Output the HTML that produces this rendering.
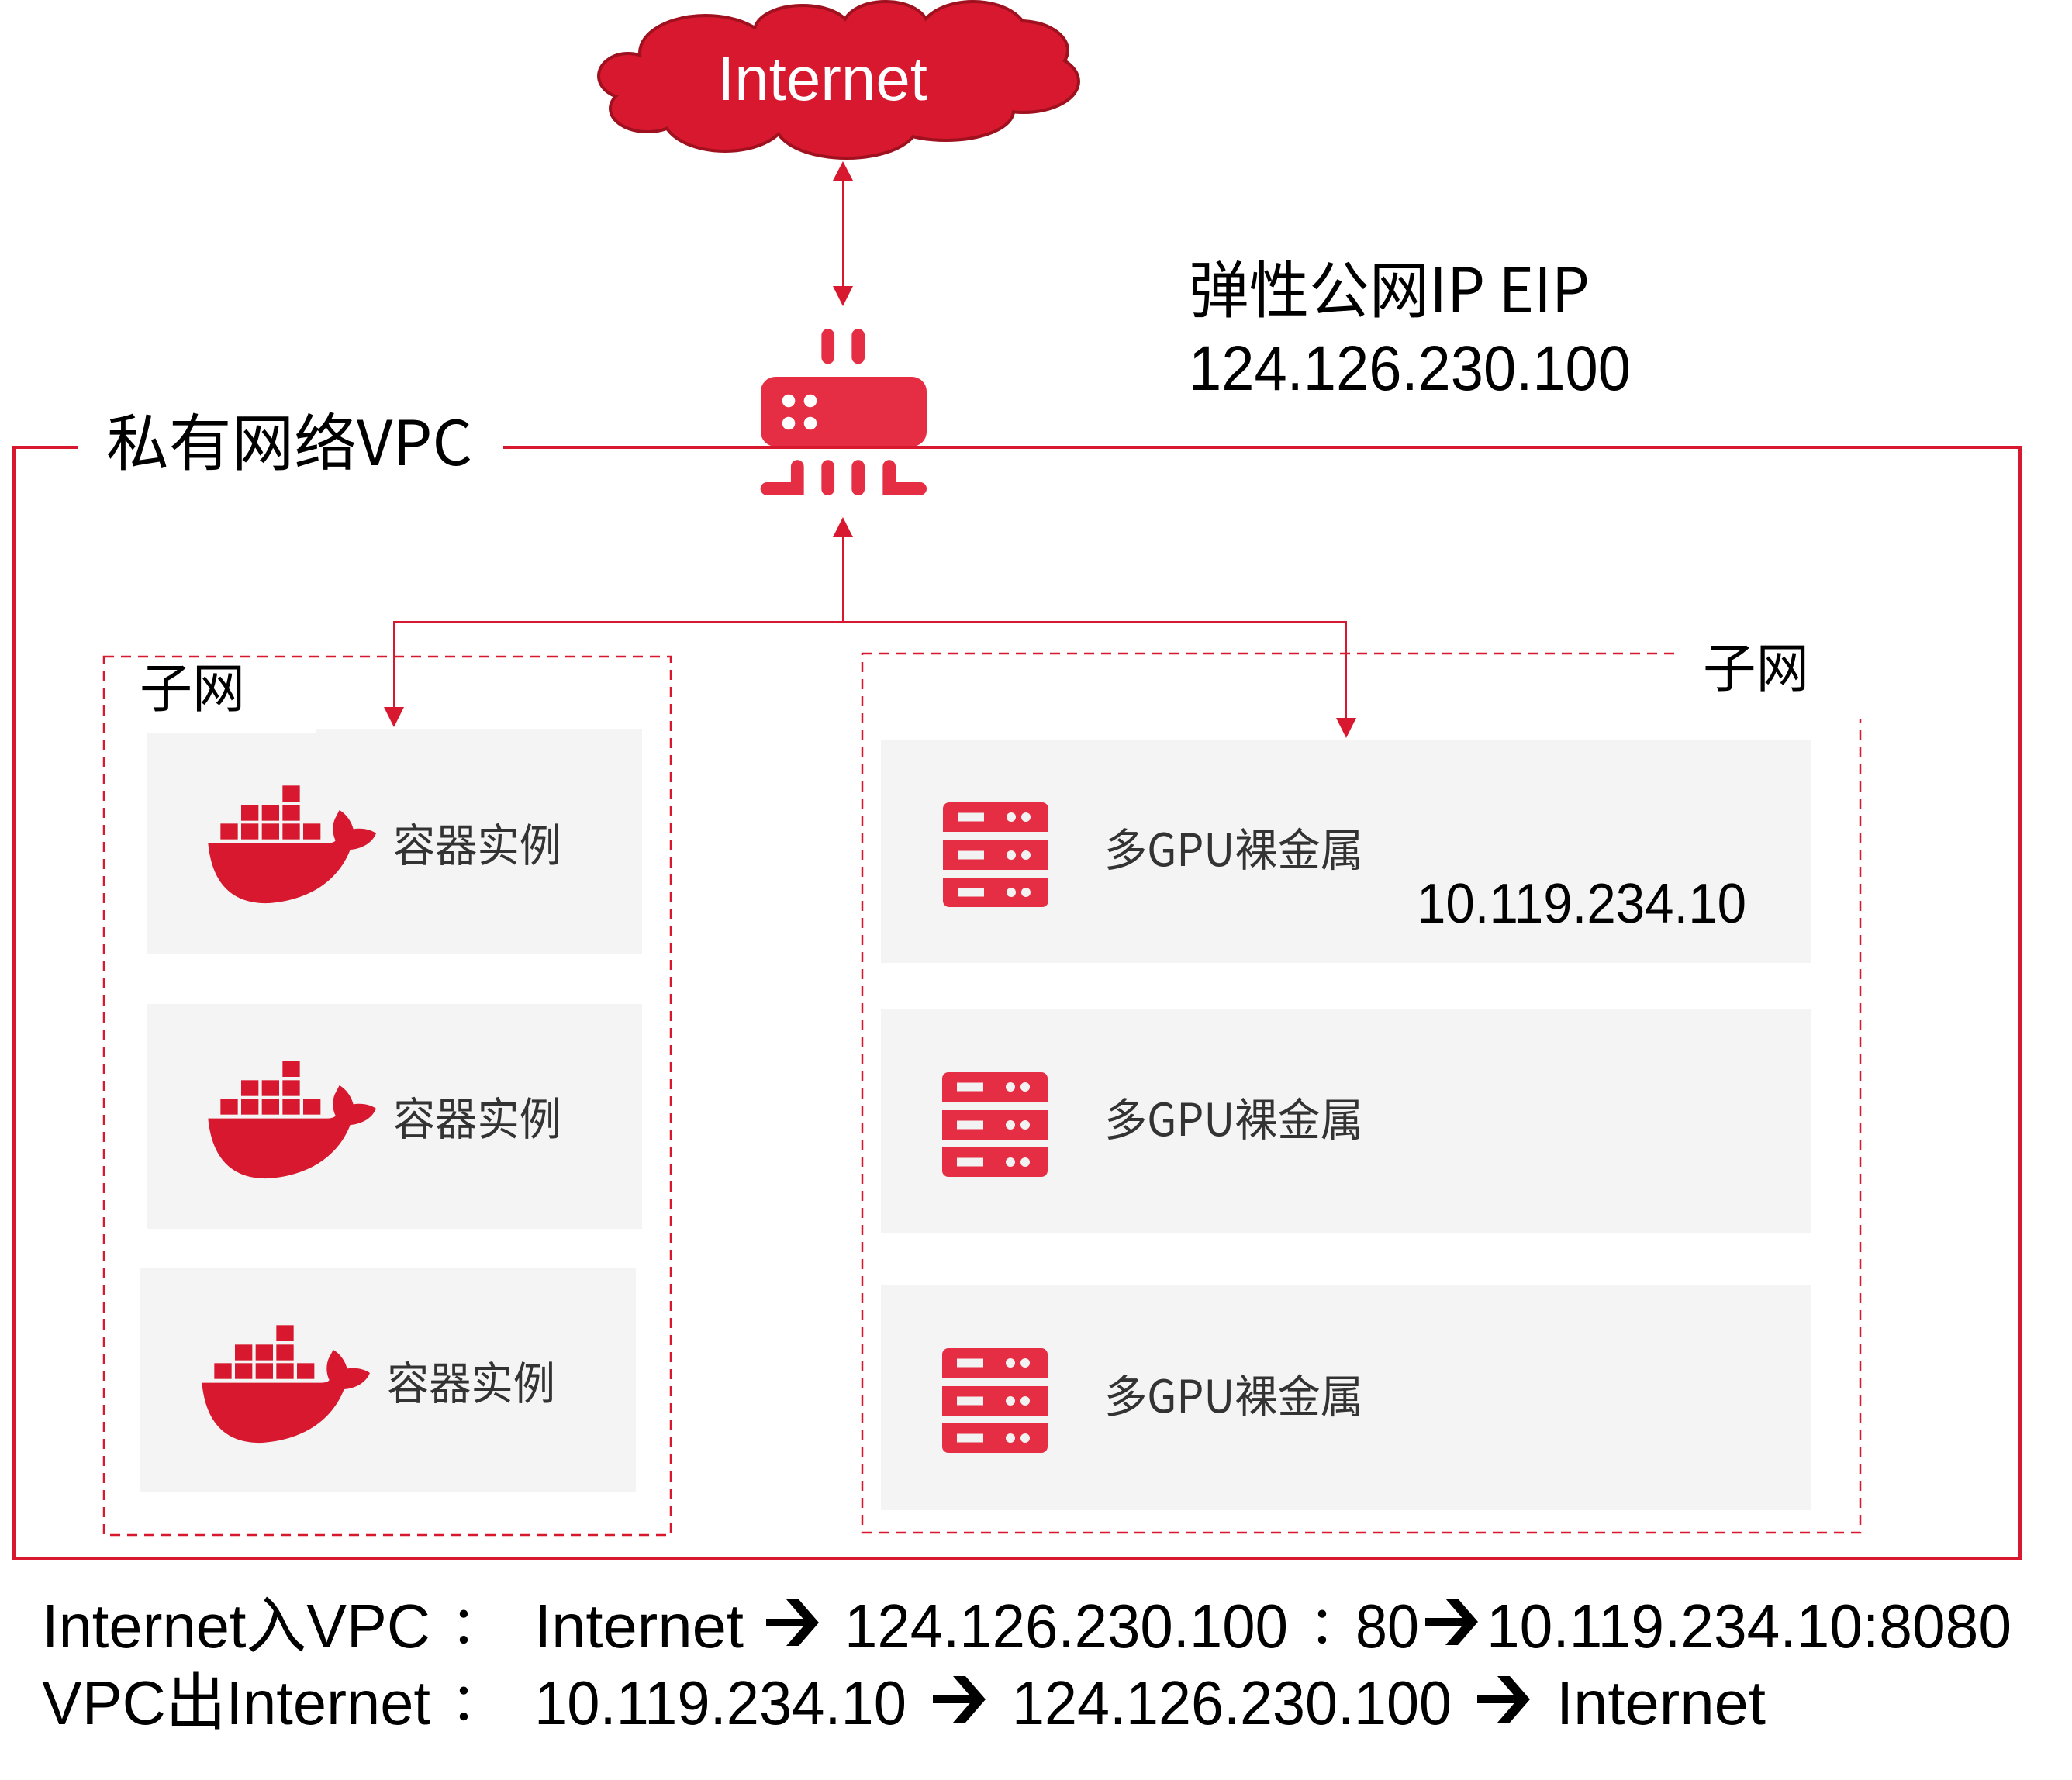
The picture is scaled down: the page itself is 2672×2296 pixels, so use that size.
<!DOCTYPE html>
<html><head><meta charset="utf-8">
<style>
html,body{margin:0;padding:0;background:#fff;}
svg{display:block;}
text{font-family:"Liberation Sans","Noto Sans CJK SC",sans-serif;}
.cjk{font-family:"Noto Sans CJK SC","Liberation Sans",sans-serif;}
.jp{font-family:"Noto Sans CJK JP",sans-serif;}
</style></head><body>
<svg width="2672" height="2296" viewBox="0 0 2672 2296" xmlns="http://www.w3.org/2000/svg">
<rect width="2672" height="2296" fill="#fff"/>
<defs>
  <g id="whale" fill="#d7182e">
    <rect x="343" y="40" width="67" height="62"/>
    <rect x="183" y="115" width="67" height="61"/>
    <rect x="263" y="115" width="67" height="61"/>
    <rect x="343" y="115" width="67" height="61"/>
    <rect x="103" y="187" width="67" height="61"/>
    <rect x="183" y="187" width="67" height="61"/>
    <rect x="263" y="187" width="67" height="61"/>
    <rect x="343" y="187" width="67" height="61"/>
    <rect x="423" y="187" width="67" height="61"/>
    <path d="M55,263 L518,263 C535,262 545,258 548,252 C538,232 533,200 545,170 L563,135 C590,150 610,180 617,208 C650,203 685,210 705,225 C690,262 650,285 605,288 C570,380 480,480 290,495 C150,500 70,420 55,263 Z"/>
  </g>
  <g id="srv">
    <path d="M0,8 a8,8 0 0 1 8,-8 h120 a8,8 0 0 1 8,8 v30 h-136z" fill="#e52e44"/>
    <rect x="0" y="49" width="136" height="38" fill="#e52e44"/>
    <path d="M0,97 h136 v30 a8,8 0 0 1 -8,8 h-120 a8,8 0 0 1 -8,-8z" fill="#e52e44"/>
    <rect x="19" y="13.5" width="34" height="11" fill="#f2f2f2"/>
    <rect x="19" y="62.5" width="34" height="11" fill="#f2f2f2"/>
    <rect x="19" y="110.5" width="34" height="11" fill="#f2f2f2"/>
    <circle cx="88" cy="19" r="6" fill="#f2f2f2"/><circle cx="107" cy="19" r="6" fill="#f2f2f2"/>
    <circle cx="88" cy="68" r="6" fill="#f2f2f2"/><circle cx="107" cy="68" r="6" fill="#f2f2f2"/>
    <circle cx="88" cy="116" r="6" fill="#f2f2f2"/><circle cx="107" cy="116" r="6" fill="#f2f2f2"/>
  </g>
  <g id="arr" fill="#000">
    <rect x="0" y="25" width="58" height="10"/>
    <polygon points="26,0 42,0 68,30 42,60 26,60 52,30"/>
  </g>
</defs>

<!-- Cloud -->
<g fill="#d7182e" stroke="#a0111f" stroke-width="8">
  <ellipse cx="835" cy="140" rx="46" ry="28"/>
  <ellipse cx="810" cy="98" rx="36" ry="27"/>
  <ellipse cx="910" cy="68" rx="83" ry="46"/>
  <ellipse cx="1035" cy="40" rx="60" ry="31"/>
  <ellipse cx="1142" cy="35" rx="53" ry="31"/>
  <ellipse cx="1255" cy="45" rx="68" ry="41"/>
  <ellipse cx="1315" cy="65" rx="60" ry="36"/>
  <ellipse cx="1320" cy="105" rx="69" ry="38"/>
  <ellipse cx="1220" cy="143" rx="85" ry="36"/>
  <ellipse cx="1092" cy="160" rx="90" ry="42"/>
  <ellipse cx="935" cy="150" rx="78" ry="43"/>
</g>
<g fill="#d7182e">
  <ellipse cx="835" cy="140" rx="46" ry="28"/>
  <ellipse cx="810" cy="98" rx="36" ry="27"/>
  <ellipse cx="910" cy="68" rx="83" ry="46"/>
  <ellipse cx="1035" cy="40" rx="60" ry="31"/>
  <ellipse cx="1142" cy="35" rx="53" ry="31"/>
  <ellipse cx="1255" cy="45" rx="68" ry="41"/>
  <ellipse cx="1315" cy="65" rx="60" ry="36"/>
  <ellipse cx="1320" cy="105" rx="69" ry="38"/>
  <ellipse cx="1220" cy="143" rx="85" ry="36"/>
  <ellipse cx="1092" cy="160" rx="90" ry="42"/>
  <ellipse cx="935" cy="150" rx="78" ry="43"/>
  <ellipse cx="1080" cy="100" rx="235" ry="70"/>
  <ellipse cx="868" cy="110" rx="34" ry="26"/>
  <ellipse cx="1300" cy="90" rx="40" ry="30"/>
</g>
<text x="925" y="129" font-size="80" fill="#fff" textLength="271" lengthAdjust="spacingAndGlyphs">Internet</text>

<!-- Connector cloud <-> router -->
<line x1="1087" y1="230" x2="1087" y2="372" stroke="#d7182e" stroke-width="2"/>
<polygon points="1087,208 1074,233 1100,233" fill="#d7182e"/>
<polygon points="1074,369 1100,369 1087,395" fill="#d7182e"/>

<!-- EIP text -->
<text class="cjk" x="1533" y="403" font-size="80" fill="#000" textLength="517" lengthAdjust="spacingAndGlyphs">弹性公网IP EIP</text>
<text x="1533" y="503" font-size="82" fill="#000" textLength="570" lengthAdjust="spacingAndGlyphs">124.126.230.100</text>

<!-- Subnet dashed boxes -->
<rect x="134" y="847" width="731" height="1133" fill="none" stroke="#d7182e" stroke-width="2.5" stroke-dasharray="13 9"/>
<rect x="1112" y="843" width="1287" height="1134" fill="none" stroke="#d7182e" stroke-width="2.5" stroke-dasharray="13 9"/>

<!-- Gray boxes left -->
<rect x="189" y="940" width="639" height="290" fill="#f4f4f4"/>
<rect x="189" y="1295" width="639" height="290" fill="#f4f4f4"/>
<rect x="180" y="1635" width="640" height="289" fill="#f4f4f4"/>
<!-- Gray boxes right -->
<rect x="1136" y="954" width="1200" height="288" fill="#f4f4f4"/>
<rect x="1136" y="1302" width="1200" height="289" fill="#f4f4f4"/>
<rect x="1136" y="1658" width="1200" height="290" fill="#f4f4f4"/>

<!-- label notches -->
<rect x="145" y="849" width="263" height="97" fill="#fff"/>
<rect x="2165" y="830" width="245" height="97" fill="#fff"/>

<!-- VPC border -->
<g stroke="#d7182e" stroke-width="4" fill="none">
  <polyline points="101,577 18,577 18,2010 2605,2010 2605,577 649,577"/>
</g>

<!-- Router -->
<g fill="#e52e44">
  <rect x="981" y="486" width="214" height="90" rx="19" ry="19"/>
</g>
<line x1="649" y1="577" x2="2605" y2="577" stroke="#d7182e" stroke-width="4"/>
<g fill="#fff">
  <circle cx="1017" cy="517" r="8.3"/><circle cx="1045" cy="517" r="8.3"/>
  <circle cx="1017" cy="546" r="8.3"/><circle cx="1045" cy="546" r="8.3"/>
</g>
<g stroke="#e52e44" stroke-width="16.7" stroke-linecap="round" fill="none">
  <line x1="1067.7" y1="432.5" x2="1067.7" y2="461"/>
  <line x1="1106.7" y1="432.5" x2="1106.7" y2="461"/>
  <line x1="1067.7" y1="601.6" x2="1067.7" y2="630.7"/>
  <line x1="1106.7" y1="601.6" x2="1106.7" y2="630.7"/>
  <polyline points="1028.3,601.6 1028.3,630.4 989,630.4" stroke-linejoin="miter"/>
  <polyline points="1146.7,601.6 1146.7,630.4 1186.7,630.4" stroke-linejoin="miter"/>
</g>

<!-- Connectors router -> subnets -->
<g stroke="#d7182e" stroke-width="2" fill="none">
  <polyline points="1087,690 1087,802"/>
  <polyline points="508,915 508,802 1736,802 1736,929"/>
</g>
<polygon points="1087,667 1074,693 1100,693" fill="#d7182e"/>
<polygon points="495,912 521,912 508,938" fill="#d7182e"/>
<polygon points="1723,926 1749,926 1736,952" fill="#d7182e"/>

<!-- Labels -->
<text class="cjk" x="137" y="600" font-size="80" fill="#000" textLength="472" lengthAdjust="spacingAndGlyphs">私有网络VPC</text>
<text class="cjk" x="180" y="912" font-size="68" fill="#000" textLength="136" lengthAdjust="spacingAndGlyphs">子网</text>
<text class="cjk" x="2196" y="886" font-size="68" fill="#000" textLength="137" lengthAdjust="spacingAndGlyphs">子网</text>

<!-- Whales -->
<g transform="translate(250,1000) scale(0.33333)"><use href="#whale"/></g>
<g transform="translate(250,1355) scale(0.33333)"><use href="#whale"/></g>
<g transform="translate(242,1696) scale(0.33333)"><use href="#whale"/></g>
<text class="cjk" x="507" y="1111" font-size="58" fill="#333" textLength="217" lengthAdjust="spacingAndGlyphs">容器实例</text>
<text class="cjk" x="507" y="1464" font-size="58" fill="#333" textLength="217" lengthAdjust="spacingAndGlyphs">容器实例</text>
<text class="cjk" x="499" y="1805" font-size="58" fill="#333" textLength="217" lengthAdjust="spacingAndGlyphs">容器实例</text>

<!-- Servers -->
<use href="#srv" x="1216" y="1035"/>
<use href="#srv" x="1215" y="1383"/>
<use href="#srv" x="1215" y="1739"/>
<text class="cjk" x="1424" y="1117" font-size="58" fill="#333" textLength="334" lengthAdjust="spacingAndGlyphs">多GPU裸金属</text>
<text class="cjk" x="1424" y="1465" font-size="58" fill="#333" textLength="334" lengthAdjust="spacingAndGlyphs">多GPU裸金属</text>
<text class="cjk" x="1424" y="1822" font-size="58" fill="#333" textLength="334" lengthAdjust="spacingAndGlyphs">多GPU裸金属</text>
<text x="1827" y="1190" font-size="72" fill="#000" textLength="425" lengthAdjust="spacingAndGlyphs">10.119.234.10</text>

<!-- Bottom text line 1 -->
<text x="54" y="2125" font-size="80" fill="#000" textLength="501" lengthAdjust="spacingAndGlyphs">Internet入VPC</text>
<text class="jp" x="564" y="2124" font-size="68" fill="#000">：</text>
<text x="689" y="2125" font-size="80" fill="#000" textLength="270" lengthAdjust="spacingAndGlyphs">Internet</text>
<use href="#arr" x="988" y="2063"/>
<text x="1089" y="2125" font-size="80" fill="#000" textLength="572" lengthAdjust="spacingAndGlyphs">124.126.230.100</text>
<text class="jp" x="1671" y="2124" font-size="68" fill="#000">：</text>
<text x="1748" y="2125" font-size="80" fill="#000" textLength="82" lengthAdjust="spacingAndGlyphs">80</text>
<use href="#arr" x="1838" y="2062"/>
<text x="1917" y="2125" font-size="80" fill="#000" textLength="677" lengthAdjust="spacingAndGlyphs">10.119.234.10:8080</text>

<!-- Bottom text line 2 -->
<text x="54" y="2224" font-size="80" fill="#000" textLength="501" lengthAdjust="spacingAndGlyphs">VPC出Internet</text>
<text class="jp" x="564" y="2223" font-size="68" fill="#000">：</text>
<text x="689" y="2224" font-size="80" fill="#000" textLength="480" lengthAdjust="spacingAndGlyphs">10.119.234.10</text>
<use href="#arr" x="1203" y="2162"/>
<text x="1305" y="2224" font-size="80" fill="#000" textLength="567" lengthAdjust="spacingAndGlyphs">124.126.230.100</text>
<use href="#arr" x="1905" y="2162"/>
<text x="2007" y="2224" font-size="80" fill="#000" textLength="270" lengthAdjust="spacingAndGlyphs">Internet</text>
</svg>
</body></html>
